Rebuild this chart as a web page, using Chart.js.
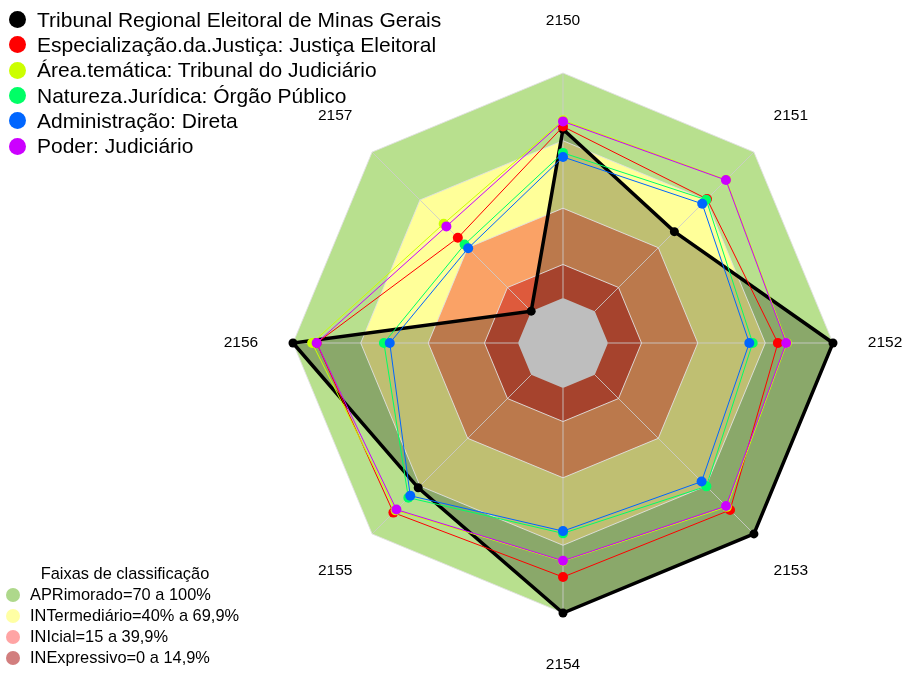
<!DOCTYPE html>
<html>
<head>
<meta charset="utf-8">
<script src="https://cdn.jsdelivr.net/npm/chart.js@4"></script>
<style>
  html, body { margin: 0; padding: 0; background: #fff; }
  #wrap { position: relative; width: 905px; height: 675px; font-family: "Liberation Sans", Arial, sans-serif; color: #000; }
  canvas { position: absolute; left: 0; top: 0; }
  .leg { position: absolute; left: 9px; top: 7px; font-size: 21px; }
  .leg .row { display: flex; align-items: center; height: 25.33px; white-space: nowrap; }
  .leg .dot { width: 17px; height: 17px; border-radius: 50%; margin-right: 11px; flex: none; }
  .faixas { position: absolute; left: 6px; top: 562px; font-size: 16.4px; }
  .faixas .title { width: 238px; text-align: center; height: 22px; line-height: 22px; }
  .faixas .row { display: flex; align-items: center; height: 21.1px; white-space: nowrap; }
  .faixas .dot { width: 14px; height: 14px; border-radius: 50%; margin-right: 10px; flex: none; }
</style>
</head>
<body>
<div id="wrap">
  <canvas id="radar" width="905" height="675"></canvas>
  <div class="leg" id="legSeries"></div>
  <div class="faixas" id="legBands"><div class="title">Faixas de classificação</div></div>
</div>
<script>
// eixos (anos / quesitos)
const axisLabels = ['2150', '2151', '2152', '2153', '2154', '2155', '2156', '2157'];

// series, valores em %
const seriesNames = [
  'Tribunal Regional Eleitoral de Minas Gerais',
  'Especialização.da.Justiça: Justiça Eleitoral',
  'Área.temática: Tribunal do Judiciário',
  'Natureza.Jurídica: Órgão Público',
  'Administração: Direta',
  'Poder: Judiciário'
];
const treMG            = [75, 50, 100, 100, 100, 71, 100, 0];
const especializacao   = [76.2, 70.5, 75.5, 85, 84, 86.6, 89.5, 46.1];
const areaTematica     = [79, 82.6, 79.5, 83, 77, 85.2, 91.5, 55];
const naturezaJuridica = [64.5, 70, 64.3, 70.1, 64.6, 77.2, 59.6, 41.9];
const administracao    = [62.7, 67.5, 62.8, 67.1, 63.6, 76, 57, 39.6];
const poder            = [78.5, 82.4, 79.2, 82.5, 76.8, 84.7, 89.5, 53.3];
const seriesColors = ['#000000', '#FF0000', '#CCFF00', '#00FF66', '#0066FF', '#CC00FF'];

// faixas de classificacao
const bandNames = ['APRimorado=70 a 100%', 'INTermediário=40% a 69,9%', 'INIcial=15 a 39,9%', 'INExpressivo=0 a 14,9%'];
const bandLimits = [100, 69.9, 39.9, 14.9];
const bandFill = ['#B8E08E', '#FFFF99', '#FAA266', '#DE5A3C'];
const bandLegend = ['rgba(140,200,90,0.7)', 'rgba(255,255,90,0.55)', 'rgba(255,90,90,0.55)', 'rgba(180,40,40,0.6)'];

const scaleMin = -20; // miolo cinza (centro nao comeca em zero)
const scaleMax = 100;

// legenda das series
const legS = document.getElementById('legSeries');
seriesNames.forEach((n, i) => {
  const row = document.createElement('div');
  row.className = 'row';
  row.innerHTML = '<span class="dot" style="background:' + seriesColors[i] + '"></span><span>' + n + '</span>';
  legS.appendChild(row);
});
const legB = document.getElementById('legBands');
bandNames.forEach((n, i) => {
  const row = document.createElement('div');
  row.className = 'row';
  row.innerHTML = '<span class="dot" style="background:' + bandLegend[i] + '"></span><span>' + n + '</span>';
  legB.appendChild(row);
});

function seriesSet(label, data, color, big) {
  return {
    label: label,
    data: data,
    borderColor: color,
    backgroundColor: big ? 'rgba(0,0,0,0.25)' : color,
    fill: big ? 'start' : false,
    borderWidth: big ? 3.5 : 1,
    pointRadius: big ? 4.5 : 5,
    pointBorderWidth: 0,
    pointBackgroundColor: color
  };
}

const datasets = [
  seriesSet(seriesNames[5], poder, seriesColors[5]),
  seriesSet(seriesNames[4], administracao, seriesColors[4]),
  seriesSet(seriesNames[3], naturezaJuridica, seriesColors[3]),
  seriesSet(seriesNames[2], areaTematica, seriesColors[2]),
  seriesSet(seriesNames[1], especializacao, seriesColors[1]),
  {
    label: 'centro',
    data: axisLabels.map(() => 0),
    backgroundColor: '#BEBEBE',
    borderWidth: 0,
    fill: 'start',
    pointRadius: 0
  },
  seriesSet(seriesNames[0], treMG, seriesColors[0], true)
];
// faixas: a menor primeiro, a maior por ultimo (desenhada antes)
for (let i = bandLimits.length - 1; i >= 0; i--) {
  datasets.push({
    label: bandNames[i],
    data: axisLabels.map(() => bandLimits[i]),
    backgroundColor: bandFill[i],
    borderColor: 'rgba(225,225,225,0.9)',
    borderWidth: 1,
    fill: 'start',
    pointRadius: 0
  });
}

const radarExtras = {
  id: 'radarExtras',
  beforeDatasetsDraw(chart) {
    const r = chart.scales.r;
    const ctx = chart.ctx;
    ctx.save();
    ctx.strokeStyle = 'rgba(205,205,205,0.85)';
    ctx.lineWidth = 1;
    for (let i = 0; i < axisLabels.length; i++) {
      const a = r.getPointPositionForValue(i, 0);
      const b = r.getPointPositionForValue(i, scaleMax);
      ctx.beginPath();
      ctx.moveTo(a.x, a.y);
      ctx.lineTo(b.x, b.y);
      ctx.stroke();
    }
    ctx.restore();
  },
  afterDraw(chart) {
    const r = chart.scales.r;
    const ctx = chart.ctx;
    ctx.save();
    ctx.fillStyle = '#000';
    ctx.font = '15.5px "Liberation Sans", Arial, sans-serif';
    ctx.textAlign = 'center';
    ctx.textBaseline = 'middle';
    for (let i = 0; i < axisLabels.length; i++) {
      const p = r.getPointPosition(i, r.drawingArea * 1.193);
      ctx.fillText(axisLabels[i], p.x, p.y);
    }
    ctx.restore();
  }
};

new Chart(document.getElementById('radar'), {
  type: 'radar',
  data: { labels: axisLabels, datasets: datasets },
  options: {
    responsive: false,
    animation: false,
    layout: { padding: { left: 293, right: 72, top: 73, bottom: 62 } },
    elements: { line: { tension: 0 } },
    scales: {
      r: {
        min: scaleMin,
        max: scaleMax,
        ticks: { display: false },
        grid: { display: false },
        angleLines: { display: false },
        pointLabels: { display: false }
      }
    },
    plugins: {
      legend: { display: false },
      tooltip: { enabled: false },
      filler: { drawTime: 'beforeDatasetsDraw' }
    }
  },
  plugins: [radarExtras]
});
</script>
</body>
</html>
